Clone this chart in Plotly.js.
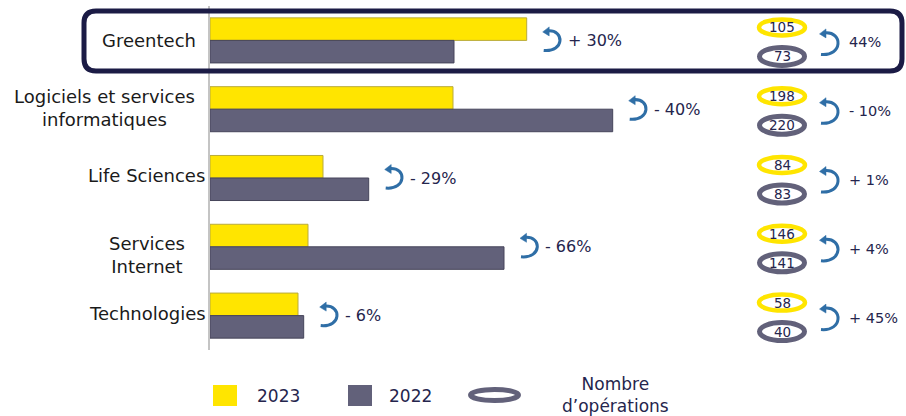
<!DOCTYPE html>
<html><head><meta charset="utf-8">
<script src="https://cdn.plot.ly/plotly-3.0.1.min.js"></script>
<style>html,body{margin:0;padding:0;background:#fff;}#chart{width:906px;height:416px;}</style>
</head><body><div id="chart"></div>
<script>
// ---- data ----
const categories = ['Greentech', 'Logiciels et services<br>informatiques', 'Life Sciences', 'Services<br>Internet', 'Technologies'];
const seriesNames = ['2023', '2022'];
const amount2023 = [316.7, 243, 113, 98, 88];
const amount2022 = [244, 402.7, 158.7, 294, 93.7];
const amountChange = ['+ 30%', '- 40%', '- 29%', '- 66%', '- 6%'];
const deals2023 = [105, 198, 84, 146, 58];
const deals2022 = [73, 220, 83, 141, 40];
const dealsChange = ['44%', '- 10%', '+ 1%', '+ 4%', '+ 45%'];
const dealsLegendLabel = 'Nombre<br>d’opérations';

// ---- layout constants ----
const W = 906, H = 416, ML = 210, MR = 0, MT = 6, MB = 66;
const PW = W - ML - MR, PH = H - MT - MB;
const px = x => (x - ML) / PW;         // page pixel -> paper x
const py = y => (H - MB - y) / PH;     // page pixel -> paper y
const YELLOW = '#ffe500', GREY = '#62617a', NAVY = '#25254d', BLUE = '#2f6ea6', BOX = '#1b1b45';
const FONT = 'DejaVu Sans';
const labelCenterPx = [149, 104, 146, 147, 147];
const labelShift = [0, 1, 3, -8, 2];

const traces = [
  {type: 'bar', orientation: 'h', name: seriesNames[0], y: categories, x: amount2023,
   marker: {color: YELLOW, line: {color: '#b9ab3c', width: 1}}, hoverinfo: 'skip'},
  {type: 'bar', orientation: 'h', name: seriesNames[1], y: categories, x: amount2022,
   marker: {color: GREY, line: {color: '#46455a', width: 1}}, hoverinfo: 'skip'}
];

const shapes = [];
const annotations = [];

// highlight box around first category
shapes.push({type: 'path', xref: 'paper', yref: 'y', xsizemode: 'pixel', ysizemode: 'pixel',
  xanchor: 0, yanchor: categories[0],
  path: 'M -114,29.5 L 680,29.5 Q 692,29.5 692,17.5 L 692,-18.5 Q 692,-30.5 680,-30.5 L -114,-30.5 Q -126,-30.5 -126,-18.5 L -126,17.5 Q -126,29.5 -114,29.5 Z',
  line: {color: BOX, width: 5}});

categories.forEach((c, i) => {
  // category label
  annotations.push({xref: 'paper', yref: 'y', x: px(labelCenterPx[i]), y: c, xanchor: 'center', yanchor: 'middle',
    yshift: labelShift[i], text: c, showarrow: false, align: 'center',
    font: {family: FONT, size: 18, color: '#1a1a1a'}});
  // amount change arrow + label
  const xa = Math.max(amount2023[i], amount2022[i]);
  shapes.push({type: 'path', xref: 'x', yref: 'y', xsizemode: 'pixel', ysizemode: 'pixel', xanchor: xa, yanchor: c,
    path: 'M 17,-10 C 38,-12 38,11 21,9.5', line: {color: BLUE, width: 3}});
  shapes.push({type: 'path', xref: 'x', yref: 'y', xsizemode: 'pixel', ysizemode: 'pixel', xanchor: xa, yanchor: c,
    path: 'M 16,8.5 L 22.5,13.5 L 22.5,4.5 Z', fillcolor: BLUE, line: {color: BLUE, width: 0.5}});
  annotations.push({xref: 'x', yref: 'y', x: xa, y: c, xanchor: 'left', yanchor: 'middle', xshift: 39,
    text: amountChange[i], showarrow: false, font: {family: FONT, size: 16, color: NAVY}});
  // deal count ovals
  shapes.push({type: 'circle', xref: 'paper', yref: 'y', xsizemode: 'pixel', ysizemode: 'pixel', xanchor: 1, yanchor: c,
    x0: -147, x1: -101, y0: 5, y1: 21, fillcolor: '#ffffff', line: {color: YELLOW, width: 4.5}});
  shapes.push({type: 'circle', xref: 'paper', yref: 'y', xsizemode: 'pixel', ysizemode: 'pixel', xanchor: 1, yanchor: c,
    x0: -146.5, x1: -101.5, y0: -25, y1: -7, fillcolor: '#ffffff', line: {color: GREY, width: 5}});
  annotations.push({xref: 'paper', yref: 'y', x: 1, y: c, xshift: -124, yshift: 13, xanchor: 'center', yanchor: 'middle',
    text: String(deals2023[i]), showarrow: false, font: {family: FONT, size: 13.5, color: NAVY}});
  annotations.push({xref: 'paper', yref: 'y', x: 1, y: c, xshift: -124, yshift: -16, xanchor: 'center', yanchor: 'middle',
    text: String(deals2022[i]), showarrow: false, font: {family: FONT, size: 13.5, color: NAVY}});
  // deal change arrow + label
  shapes.push({type: 'path', xref: 'paper', yref: 'y', xsizemode: 'pixel', ysizemode: 'pixel', xanchor: 1, yanchor: c,
    path: 'M -85,-14 C -63,-16 -63,9 -81,7.5', line: {color: BLUE, width: 3}});
  shapes.push({type: 'path', xref: 'paper', yref: 'y', xsizemode: 'pixel', ysizemode: 'pixel', xanchor: 1, yanchor: c,
    path: 'M -86.5,6.5 L -80,11.5 L -80,2.5 Z', fillcolor: BLUE, line: {color: BLUE, width: 0.5}});
  annotations.push({xref: 'paper', yref: 'y', x: 1, y: c, xshift: -59, yshift: -2, xanchor: 'left', yanchor: 'middle',
    text: dealsChange[i], showarrow: false, font: {family: FONT, size: 14.5, color: NAVY}});
});

// custom legend
shapes.push({type: 'rect', xref: 'paper', yref: 'paper', x0: px(213), x1: px(237), y0: py(406), y1: py(385),
  fillcolor: YELLOW, line: {width: 0}});
shapes.push({type: 'rect', xref: 'paper', yref: 'paper', x0: px(348), x1: px(372), y0: py(406), y1: py(385),
  fillcolor: GREY, line: {width: 0}});
shapes.push({type: 'circle', xref: 'paper', yref: 'paper', x0: px(470.5), x1: px(518.5), y0: py(400.5), y1: py(389.5),
  fillcolor: '#ffffff', line: {color: GREY, width: 5}});
annotations.push({xref: 'paper', yref: 'paper', x: px(255), y: py(395.5), xanchor: 'left', yanchor: 'middle',
  text: seriesNames[0], showarrow: false, font: {family: FONT, size: 17, color: NAVY}});
annotations.push({xref: 'paper', yref: 'paper', x: px(387), y: py(395.5), xanchor: 'left', yanchor: 'middle',
  text: seriesNames[1], showarrow: false, font: {family: FONT, size: 17, color: NAVY}});
annotations.push({xref: 'paper', yref: 'paper', x: px(615), y: py(395), xanchor: 'center', yanchor: 'middle',
  text: dealsLegendLabel, showarrow: false, align: 'center', font: {family: FONT, size: 17, color: NAVY}});

const layout = {
  width: W, height: H, margin: {l: ML, r: MR, t: MT, b: MB, pad: 0},
  paper_bgcolor: '#ffffff', plot_bgcolor: '#ffffff',
  barmode: 'group', bargap: 0.345, bargroupgap: 0, showlegend: false,
  xaxis: {range: [0, PW], visible: false, fixedrange: true},
  yaxis: {type: 'category', range: [4.5, -0.5], showticklabels: false, showgrid: false, zeroline: false,
    ticks: '', showline: true, linecolor: '#c4c4c4', linewidth: 2, fixedrange: true},
  shapes: shapes, annotations: annotations,
  font: {family: FONT}
};

Plotly.newPlot('chart', traces, layout, {staticPlot: true, displayModeBar: false});
</script>
</body></html>
